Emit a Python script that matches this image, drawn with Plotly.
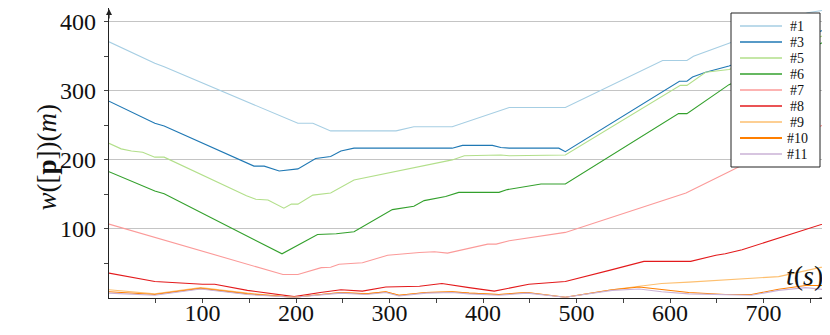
import plotly.graph_objects as go

# ---- data ----
t1 = [0, 49, 59, 202, 218, 237, 307, 326, 367, 428, 488, 592, 618, 625, 663, 747, 770]
w1 = [371, 340, 335, 253, 253, 242, 242, 248, 248, 276, 276, 344, 344, 350, 369, 413, 418]

t3 = [0, 49, 59, 155, 166, 182, 202, 221, 237, 248, 262, 367, 378, 410, 419, 428, 481, 488, 610, 618, 624, 638, 663, 770]
w3 = [285, 253, 249, 191, 191, 184, 187, 202, 205, 213, 217, 217, 221, 221, 218, 217, 217, 212, 314, 314, 320, 327, 336, 391]

t5 = [0, 13, 24, 36, 49, 59, 147, 157, 170, 187, 195, 202, 218, 237, 262, 367, 380, 419, 428, 488, 611, 618, 638, 663, 770]
w5 = [224, 216, 213, 211, 204, 204, 148, 143, 142, 130, 136, 136, 149, 152, 171, 200, 206, 207, 206, 207, 308, 308, 327, 331, 383]

t6 = [0, 49, 59, 185, 223, 243, 262, 303, 326, 337, 360, 374, 417, 426, 462, 488, 609, 618, 663, 770]
w6 = [183, 155, 151, 64, 92, 93, 96, 128, 133, 141, 147, 153, 153, 157, 165, 165, 267, 267, 309, 374]

t7 = [0, 93, 148, 186, 202, 227, 237, 246, 271, 298, 332, 348, 362, 378, 405, 414, 428, 488, 528, 560, 617, 663, 770]
w7 = [107, 70, 49, 34, 34, 44, 44.5, 49, 51, 62, 66, 67, 65, 70, 78, 78, 83, 95, 113, 126.5, 152, 183, 255]

t8 = [0, 49, 100, 113, 148, 187, 198, 226, 248, 271, 296, 332, 356, 385, 412, 449, 488, 535, 572, 622, 649, 659, 677, 770]
w8 = [36, 24, 20, 20, 11, 4, 2, 8, 12, 10, 16, 17, 21, 15, 10, 20, 24, 40, 53, 53, 62, 64, 70, 110]

t9 = [0, 49, 98, 148, 198, 226, 248, 275, 296, 310, 339, 367, 385, 417, 447, 488, 538, 567, 591, 620, 716, 770]
w9 = [12, 6, 15, 7, 1, 5, 8, 6, 9, 4, 8, 9, 7, 5, 8, 1, 12, 17, 21, 23, 31, 47]

t10 = [0, 49, 98, 148, 198, 226, 248, 275, 296, 310, 339, 367, 385, 417, 447, 488, 538, 567, 591, 620, 659, 687, 716, 745, 770]
w10 = [9, 5, 14, 6, 1, 5, 8, 6, 9, 4, 8, 9, 7, 5, 8, 1, 12, 16, 12.6, 8, 5, 5, 12.6, 18, 18]

t11 = [0, 49, 98, 148, 198, 226, 248, 275, 296, 310, 339, 367, 385, 417, 447, 488, 538, 567, 591, 620, 659, 687, 716, 745, 770]
w11 = [7, 4, 13, 5, 1, 4, 7, 5, 8, 3, 7, 8, 6, 4, 7, 1, 11, 13, 9, 6, 5, 4, 11, 15, 11.5]

names = ["#1", "#3", "#5", "#6", "#7", "#8", "#9", "#10", "#11"]
colors = ["#a6cee3", "#1f78b4", "#b2df8a", "#33a02c", "#fb9a99",
          "#e31a1c", "#fdbf6f", "#ff7f00", "#cab2d6"]
series = [(t1, w1), (t3, w3), (t5, w5), (t6, w6), (t7, w7),
          (t8, w8), (t9, w9), (t10, w10), (t11, w11)]

x_ticks = [100, 200, 300, 400, 500, 600, 700]
y_ticks = [100, 200, 300, 400]

FONT = "Liberation Serif"

fig = go.Figure()
for name, col, (tt, ww) in zip(names, colors, series):
    fig.add_trace(go.Scatter(x=tt, y=ww, mode="lines", name=name,
                             showlegend=False,
                             line=dict(color=col, width=1.1)))

# page body has an 8px margin, so the figure is a bit smaller than the window
fig.update_layout(
    width=822, height=327,
    margin=dict(l=101, r=0, t=0, b=37, autoexpand=False),
    plot_bgcolor="white", paper_bgcolor="white",
    font=dict(family=FONT, size=24, color="#111"),
    showlegend=False,
)

fig.update_xaxes(
    range=[0, 771], showgrid=False, zeroline=False,
    showline=True, linecolor="#222", linewidth=1.2,
    tickmode="array", tickvals=x_ticks,
    ticks="outside", ticklen=4, tickcolor="#444", tickwidth=1,
    ticklabelstandoff=-11,
    minor=dict(tickmode="array", tickvals=[50, 150, 250, 350, 450, 550, 650, 750],
               ticks="outside", ticklen=4, tickcolor="#444", showgrid=False),
    tickfont=dict(family=FONT, size=24),
)
fig.update_yaxes(
    range=[0, 420], showgrid=True, gridcolor="#c4c4c4", gridwidth=1.2,
    zeroline=False, showline=True, linecolor="#222", linewidth=1.2,
    tickmode="array", tickvals=y_ticks,
    ticks="outside", ticklen=4, tickcolor="#444", tickwidth=1,
    ticklabelstandoff=3,
    minor=dict(tickmode="array", tickvals=[50, 150, 250, 350],
               ticks="outside", ticklen=4, tickcolor="#444", showgrid=False),
    tickfont=dict(family=FONT, size=24),
)

PX0, PW, PY0, PH = 109.0, 721.0, 298.0, 290.0
def px(v):
    return (v - PX0) / PW
def py(v):
    return (PY0 - v) / PH

# y-axis title (rotated text)
fig.add_annotation(x=px(46), y=py(157.5), xref="paper", yref="paper",
                   xanchor="center", yanchor="middle", textangle=-90,
                   text="<i>w</i>([<b>p</b>])(<i>m</i>)", showarrow=False,
                   font=dict(family=FONT, size=27, color="#111"))

# axis title for t(s), placed inside the plot near the right end
fig.add_annotation(x=0.9653, y=0.079, xref="paper", yref="paper",
                   xanchor="center", yanchor="middle",
                   text="<i>t</i>(<i>s</i>)", showarrow=False,
                   font=dict(family=FONT, size=28, color="#111"))

# axis arrows
fig.add_annotation(x=0, y=1.0, xref="x", yref="paper", ax=0, ay=12,
                   axref="pixel", ayref="pixel", text="", showarrow=True,
                   arrowhead=2, arrowsize=1, arrowwidth=1.2, arrowcolor="#222")
fig.add_annotation(x=1.0, y=0, xref="paper", yref="y", ax=-12, ay=0,
                   text="", showarrow=True,
                   arrowhead=2, arrowsize=1, arrowwidth=1.2, arrowcolor="#222")

# legend box drawn in paper space (entries spaced like the reference)
fig.add_shape(type="rect", xref="paper", yref="paper",
              x0=px(731), x1=px(820), y0=py(167), y1=py(13),
              fillcolor="white", line=dict(color="#222", width=1), layer="above")
entry_y = [26, 42, 58, 74, 90, 106, 122, 138, 154]
for name, col, ey in zip(names, colors, entry_y):
    fig.add_shape(type="line", xref="paper", yref="paper",
                  x0=px(740), x1=px(782), y0=py(ey), y1=py(ey),
                  line=dict(color=col, width=1.8 if name == "#10" else 1.3),
                  layer="above")
    fig.add_annotation(x=px(797), y=py(ey), xref="paper", yref="paper",
                       xanchor="center", yanchor="middle", showarrow=False,
                       text=name, font=dict(family=FONT, size=14, color="#111"))

fig.write_html("out.html")
